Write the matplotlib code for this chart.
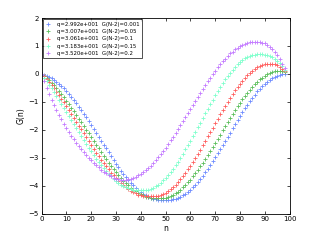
import matplotlib
matplotlib.use("Agg")
import matplotlib.pyplot as plt
import numpy as np

# n = 0 .. N-2 with N = 100
n = np.arange(99)

g_blue = [
    0, -0.04, -0.07, -0.11, -0.16, -0.21, -0.28, -0.35, -0.43, -0.52,
    -0.61, -0.71, -0.82, -0.93, -1.04, -1.17, -1.29, -1.42, -1.55, -1.69,
    -1.83, -1.97, -2.11, -2.25, -2.39, -2.53, -2.67, -2.81, -2.95, -3.08,
    -3.21, -3.33, -3.46, -3.57, -3.68, -3.79, -3.89, -3.98, -4.07, -4.15,
    -4.22, -4.29, -4.34, -4.39, -4.43, -4.46, -4.48, -4.50, -4.50, -4.50,
    -4.50, -4.50, -4.50, -4.49, -4.47, -4.44, -4.40, -4.35, -4.29, -4.22,
    -4.15, -4.06, -3.97, -3.87, -3.76, -3.64, -3.52, -3.40, -3.26, -3.13,
    -2.99, -2.84, -2.70, -2.55, -2.40, -2.25, -2.10, -1.95, -1.80, -1.65,
    -1.51, -1.37, -1.23, -1.10, -0.98, -0.86, -0.74, -0.63, -0.53, -0.44,
    -0.35, -0.28, -0.21, -0.15, -0.10, -0.06, -0.03, -0.01, 0.001,
]
g_green = [
    0, -0.07, -0.15, -0.23, -0.32, -0.41, -0.51, -0.62, -0.73, -0.84,
    -0.96, -1.08, -1.21, -1.33, -1.46, -1.60, -1.73, -1.86, -2.00, -2.13,
    -2.27, -2.40, -2.54, -2.67, -2.80, -2.93, -3.06, -3.18, -3.30, -3.41,
    -3.52, -3.63, -3.73, -3.82, -3.91, -3.99, -4.07, -4.14, -4.20, -4.26,
    -4.31, -4.35, -4.39, -4.41, -4.43, -4.45, -4.45, -4.45, -4.45, -4.44,
    -4.43, -4.41, -4.37, -4.33, -4.28, -4.21, -4.14, -4.06, -3.98, -3.88,
    -3.78, -3.67, -3.56, -3.44, -3.31, -3.18, -3.04, -2.90, -2.76, -2.61,
    -2.47, -2.32, -2.17, -2.02, -1.87, -1.73, -1.58, -1.44, -1.30, -1.16,
    -1.03, -0.90, -0.78, -0.67, -0.56, -0.46, -0.36, -0.28, -0.20, -0.13,
    -0.07, -0.01, 0.03, 0.06, 0.09, 0.10, 0.11, 0.09, 0.05,
]
g_red = [
    0, -0.09, -0.19, -0.29, -0.40, -0.52, -0.64, -0.76, -0.89, -1.02,
    -1.16, -1.29, -1.43, -1.57, -1.71, -1.85, -1.99, -2.13, -2.27, -2.41,
    -2.55, -2.68, -2.82, -2.95, -3.07, -3.19, -3.31, -3.42, -3.53, -3.63,
    -3.73, -3.83, -3.91, -3.99, -4.06, -4.13, -4.18, -4.23, -4.28, -4.32,
    -4.34, -4.36, -4.38, -4.38, -4.38, -4.38, -4.37, -4.36, -4.33, -4.30,
    -4.25, -4.19, -4.13, -4.05, -3.96, -3.87, -3.77, -3.66, -3.54, -3.41,
    -3.28, -3.15, -3.00, -2.86, -2.71, -2.56, -2.40, -2.24, -2.08, -1.92,
    -1.77, -1.61, -1.45, -1.30, -1.15, -1.00, -0.86, -0.73, -0.59, -0.47,
    -0.35, -0.24, -0.14, -0.05, 0.04, 0.11, 0.18, 0.24, 0.29, 0.32,
    0.35, 0.36, 0.37, 0.36, 0.34, 0.31, 0.26, 0.19, 0.10,
]
g_cyan = [
    0, -0.14, -0.27, -0.39, -0.52, -0.65, -0.79, -0.92, -1.06, -1.21,
    -1.35, -1.50, -1.64, -1.79, -1.93, -2.08, -2.22, -2.37, -2.50, -2.64,
    -2.77, -2.90, -3.03, -3.15, -3.26, -3.38, -3.48, -3.58, -3.67, -3.75,
    -3.83, -3.90, -3.96, -4.01, -4.06, -4.10, -4.13, -4.15, -4.17, -4.17,
    -4.17, -4.17, -4.16, -4.15, -4.12, -4.08, -4.03, -3.97, -3.90, -3.81,
    -3.72, -3.62, -3.51, -3.40, -3.27, -3.14, -3.00, -2.86, -2.70, -2.55,
    -2.39, -2.23, -2.07, -1.90, -1.74, -1.57, -1.40, -1.24, -1.08, -0.92,
    -0.77, -0.61, -0.47, -0.33, -0.20, -0.07, 0.04, 0.15, 0.25, 0.34,
    0.43, 0.50, 0.56, 0.61, 0.65, 0.68, 0.69, 0.70, 0.70, 0.70,
    0.69, 0.67, 0.64, 0.60, 0.54, 0.47, 0.38, 0.27, 0.15,
]
g_purple = [
    0, -0.25, -0.49, -0.72, -0.92, -1.11, -1.29, -1.46, -1.62, -1.78,
    -1.93, -2.07, -2.21, -2.34, -2.46, -2.58, -2.70, -2.81, -2.91, -3.00,
    -3.09, -3.18, -3.27, -3.35, -3.43, -3.50, -3.56, -3.62, -3.67, -3.71,
    -3.75, -3.77, -3.785, -3.79, -3.79, -3.77, -3.75, -3.72, -3.68, -3.63,
    -3.58, -3.52, -3.45, -3.37, -3.28, -3.19, -3.09, -2.99, -2.88, -2.76,
    -2.64, -2.51, -2.38, -2.25, -2.11, -1.97, -1.83, -1.69, -1.54, -1.39,
    -1.25, -1.10, -0.96, -0.81, -0.67, -0.53, -0.39, -0.26, -0.13, -0.01,
    0.12, 0.23, 0.34, 0.45, 0.55, 0.64, 0.73, 0.80, 0.88, 0.94,
    0.99, 1.04, 1.07, 1.11, 1.13, 1.14, 1.15, 1.15, 1.14, 1.12,
    1.09, 1.04, 0.98, 0.90, 0.80, 0.67, 0.53, 0.37, 0.20,
]

q_values = ["2.992e+001", "3.007e+001", "3.061e+001", "3.183e+001", "3.520e+001"]
g_end = ["0.001", "0.05", "0.1", "0.15", "0.2"]
series = [g_blue, g_green, g_red, g_cyan, g_purple]
colors = ["#6f8cff", "#5cbf5c", "#ff5f5f", "#7fffcc", "#c47cff"]

fig = plt.figure(figsize=(3.2, 2.4), dpi=100)
ax = fig.add_axes([0.13, 0.11, 0.775, 0.815])

for g, c, q, e in zip(series, colors, q_values, g_end):
    ax.plot(n, g, linestyle="none", marker="+", markersize=3.0, markeredgewidth=0.6,
            color=c, label=f"q={q}  G(N-2)={e}")

ax.set_xlim(0, 100)
ax.set_ylim(-5, 2)
ax.set_xticks(np.arange(0, 101, 10))
ax.set_yticks(np.arange(-5, 3, 1))
ax.tick_params(direction="in", length=2.5, width=0.5, labelsize=5, pad=2,
               top=True, right=True)
for s in ax.spines.values():
    s.set_linewidth(0.6)
ax.set_xlabel("n", fontsize=5.5, labelpad=1)
ax.set_ylabel("G(n)", fontsize=5.5, labelpad=2)

leg = ax.legend(loc="upper left", fontsize=3.9, frameon=True, fancybox=False,
                borderaxespad=0.25, handlelength=1.0, handletextpad=1.2,
                labelspacing=0.45, borderpad=0.4, markerscale=0.9)
leg.get_frame().set_edgecolor("black")
leg.get_frame().set_linewidth(0.6)

fig.savefig("out.png", dpi=100)
